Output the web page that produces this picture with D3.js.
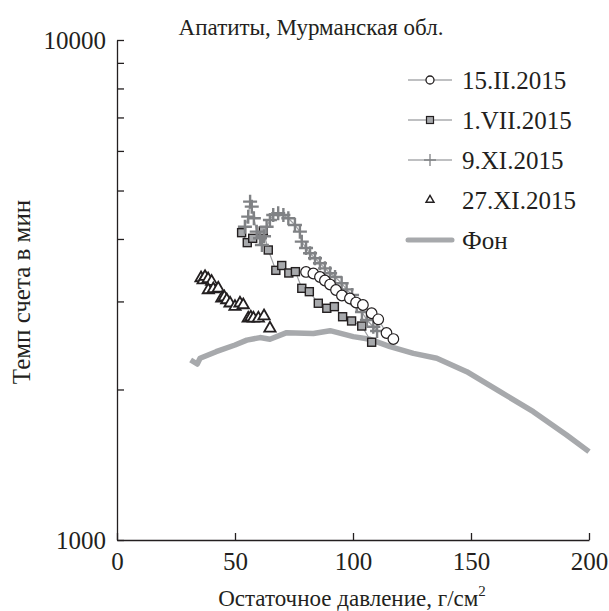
<!DOCTYPE html>
<html>
<head>
    <meta charset="utf-8">
    <title>Апатиты</title>
    <style>
        * { margin: 0; padding: 0; }
        body { background: #fff; }
        text { font-family: "Liberation Serif", "DejaVu Serif", serif; fill: #231f20; }
    </style>
    <script src="https://cdn.jsdelivr.net/npm/d3@7/dist/d3.min.js"></script>
</head>
<body>
<div id="root"></div>
<script>
    // 15.II.2015 - open circles
    var p15feb = [80.1, 83.2, 86.0, 88.1, 90.3, 92.8, 95.3, 98.7, 101.3, 104.2, 107.9, 110.7, 114.2, 117.1];
    var r15feb = [3436, 3412, 3357, 3304, 3243, 3162, 3083, 3041, 2985, 2951, 2841, 2763, 2594, 2523];

    // 1.VII.2015 - grey squares
    var p1jul = [52.8, 55.2, 57.5, 62.0, 64.1, 67.3, 69.8, 72.8, 75.6, 78.3, 81.5, 85.3, 88.9, 92.1, 95.6, 99.4, 103.7, 107.9];
    var r1jul = [4118, 3933, 4012, 4150, 3802, 3462, 3540, 3420, 3441, 3187, 3138, 2975, 2907, 2929, 2796, 2742, 2679, 2486];

    // 9.XI.2015 - crosses
    var p9nov = [54.2, 55.6, 56.4, 57.1, 58.0, 59.2, 60.6, 61.4, 62.3, 63.4, 64.8, 66.2, 68.3, 70.5, 72.6, 75.4, 77.5, 78.3, 80.1, 81.8, 83.9, 86.0, 88.1, 90.3, 92.4, 95.2, 97.3, 99.6, 101.6, 103.8, 105.9, 108.6, 110.2];
    var r9nov = [4232, 4433, 4750, 4642, 4400, 4137, 4012, 3890, 4050, 4232, 4365, 4467, 4502, 4467, 4399, 4266, 4137, 3951, 3837, 3745, 3659, 3576, 3494, 3415, 3357, 3261, 3172, 3090, 2965, 2858, 2754, 2670, 2618];

    // 27.XI.2015 - open triangles
    var p27nov = [35.6, 36.5, 37.3, 38.6, 40.1, 38.7, 40.8, 42.9, 44.4, 45.5, 46.5, 47.9, 50.0, 52.1, 53.5, 55.6, 56.7, 57.8, 59.9, 62.3, 64.8];
    var r27nov = [3342, 3310, 3362, 3327, 3286, 3162, 3177, 3187, 3043, 3060, 3020, 2975, 2929, 2975, 2951, 2776, 2790, 2776, 2776, 2805, 2651];

    // background (Фон)
    var pBg = [31.2, 34.0, 35.2, 42.0, 50.0, 55.0, 60.6, 64.8, 71.9, 83.2, 90.3, 100.1, 107.2, 115.7, 125.6, 135.5, 148.2, 162.3, 176.4, 190.5, 200.0];
    var rBg = [2291, 2249, 2310, 2380, 2455, 2510, 2540, 2520, 2598, 2588, 2622, 2551, 2520, 2436, 2362, 2310, 2171, 1980, 1806, 1622, 1502];

    var xTicks = [0, 50, 100, 150, 200];
    var yLabelTicks = [1000, 10000];
    var yMinorTicks = [2000, 3000, 4000, 5000, 6000, 7000, 8000, 9000];
    var legendLabels = ["15.II.2015", "1.VII.2015", "9.XI.2015", "27.XI.2015", "Фон"];

    var width = 609, height = 611;
    var plotL = 117, plotR = 589, plotT = 40, plotB = 540;

    var svg = d3.select("#root").append("svg").attr("width", width).attr("height", height);

    var x = d3.scaleLinear().domain([0, 200]).range([plotL, plotR]);
    var y = d3.scaleLog().domain([1000, 10000]).range([plotB, plotT]);

    function zip(px, py) {
        return px.map(function (v, i) { return { x: v, y: py[i] }; });
    }

    var line = d3.line().x(function (d) { return x(d.x); }).y(function (d) { return y(d.y); });

    // axes
    var xAxis = d3.axisBottom(x).tickValues(xTicks).tickSizeInner(-7).tickSizeOuter(0).tickPadding(12);
    var gx = svg.append("g").attr("transform", "translate(0," + plotB + ")").call(xAxis);
    gx.selectAll("text").attr("font-size", 25).attr("fill", "#231f20");

    var yAxis = d3.axisLeft(y).tickValues(yLabelTicks.concat(yMinorTicks)).tickSizeInner(-7).tickSizeOuter(0)
        .tickPadding(11).tickFormat(function (d) { return yLabelTicks.indexOf(d) >= 0 ? d : ""; });
    var gy = svg.append("g").attr("transform", "translate(" + plotL + ",0)").call(yAxis);
    gy.selectAll("text").attr("font-size", 25).attr("fill", "#231f20");
    svg.selectAll(".domain, .tick line").attr("stroke", "#231f20").attr("stroke-width", 1.3);

    // background curve
    svg.append("path").datum(zip(pBg, rBg)).attr("d", line)
        .attr("fill", "none").attr("stroke", "#a7a9ac").attr("stroke-width", 5.5).attr("stroke-linejoin", "round");

    // series lines
    [[p1jul, r1jul], [p9nov, r9nov], [p15feb, r15feb]].forEach(function (s) {
        svg.append("path").datum(zip(s[0], s[1])).attr("d", line)
            .attr("fill", "none").attr("stroke", "#9d9fa2").attr("stroke-width", 1.2);
    });

    function plus(s) {
        return "M" + (-s) + ",0H" + s + "M0," + (-s) + "V" + s;
    }

    // 27.XI triangles
    svg.append("g").selectAll("path").data(zip(p27nov, r27nov)).enter().append("path")
        .attr("d", d3.symbol().type(d3.symbolTriangle).size(55))
        .attr("transform", function (d) { return "translate(" + x(d.x) + "," + y(d.y) + ")"; })
        .attr("fill", "#fff").attr("stroke", "#231f20").attr("stroke-width", 1.8);

    // 1.VII squares
    svg.append("g").selectAll("rect").data(zip(p1jul, r1jul)).enter().append("rect")
        .attr("x", function (d) { return x(d.x) - 4; })
        .attr("y", function (d) { return y(d.y) - 4; })
        .attr("width", 8).attr("height", 8)
        .attr("fill", "#a7a9ac").attr("stroke", "#231f20").attr("stroke-width", 1.4);

    // 9.XI crosses
    svg.append("g").selectAll("path").data(zip(p9nov, r9nov)).enter().append("path")
        .attr("d", plus(7))
        .attr("transform", function (d) { return "translate(" + x(d.x) + "," + y(d.y) + ")"; })
        .attr("stroke", "#808285").attr("stroke-width", 2.4);

    // 15.II circles
    svg.append("g").selectAll("circle").data(zip(p15feb, r15feb)).enter().append("circle")
        .attr("cx", function (d) { return x(d.x); })
        .attr("cy", function (d) { return y(d.y); })
        .attr("r", 5.3)
        .attr("fill", "#fff").attr("stroke", "#231f20").attr("stroke-width", 1.2);

    // title and axis labels
    svg.append("text").attr("x", 311).attr("y", 35).attr("text-anchor", "middle").attr("font-size", 23)
        .text("Апатиты, Мурманская обл.");
    svg.append("text").attr("transform", "translate(30,292) rotate(-90)").attr("text-anchor", "middle")
        .attr("font-size", 25).text("Темп счета в мин");
    var xl = svg.append("text").attr("x", 352).attr("y", 606).attr("text-anchor", "middle").attr("font-size", 23);
    xl.append("tspan").text("Остаточное давление, г/см");
    xl.append("tspan").attr("dy", -10).attr("font-size", 15).text("2");

    // legend
    var lg = svg.append("g");
    legendLabels.forEach(function (lab, i) {
        var ly = 80 + i * 40;
        var g = lg.append("g").attr("transform", "translate(0," + ly + ")");
        if (i < 3) {
            g.append("line").attr("x1", 408).attr("x2", 452).attr("y1", 0).attr("y2", 0)
                .attr("stroke", "#808285").attr("stroke-width", 1.2);
        }
        if (i === 0) {
            g.append("circle").attr("cx", 430).attr("cy", 0).attr("r", 4).attr("fill", "#fff")
                .attr("stroke", "#231f20").attr("stroke-width", 1.3);
        } else if (i === 1) {
            g.append("rect").attr("x", 426.5).attr("y", -3.5).attr("width", 7).attr("height", 7)
                .attr("fill", "#a7a9ac").attr("stroke", "#231f20").attr("stroke-width", 1.2);
        } else if (i === 2) {
            g.append("path").attr("d", plus(6)).attr("transform", "translate(430,0)")
                .attr("stroke", "#808285").attr("stroke-width", 1.3);
        } else if (i === 3) {
            g.append("path").attr("d", d3.symbol().type(d3.symbolTriangle).size(28))
                .attr("transform", "translate(430,0)").attr("fill", "#fff")
                .attr("stroke", "#231f20").attr("stroke-width", 1.4);
        } else {
            g.append("line").attr("x1", 408).attr("x2", 452).attr("y1", 0).attr("y2", 0)
                .attr("stroke", "#a7a9ac").attr("stroke-width", 5).attr("stroke-linecap", "round");
        }
        g.append("text").attr("x", 462).attr("y", 9).attr("font-size", 25).text(lab);
    });
</script>
</body>
</html>
